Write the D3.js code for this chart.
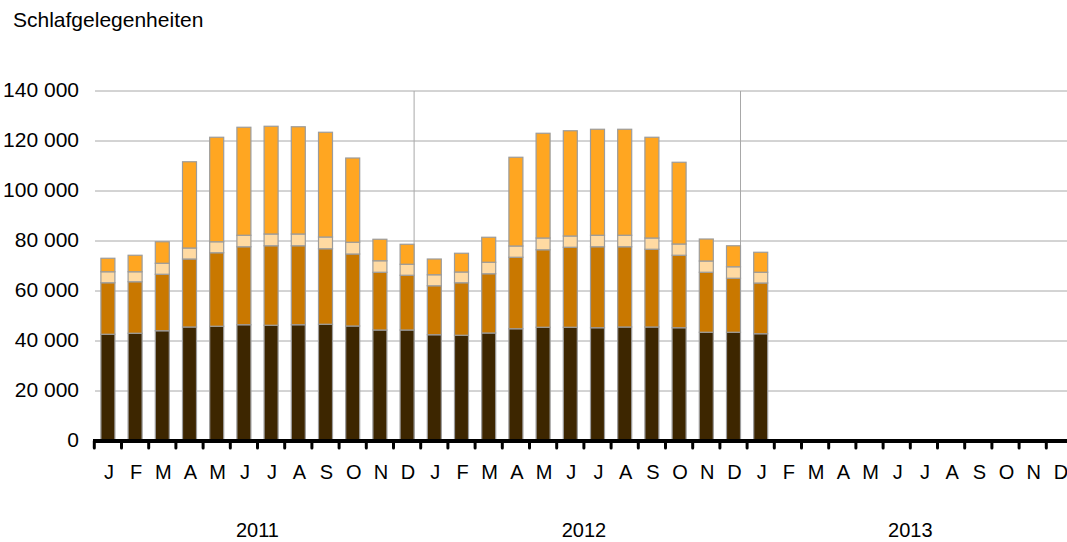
<!DOCTYPE html>
<html>
<head>
<meta charset="utf-8">
<script src="https://cdn.jsdelivr.net/npm/d3@7"></script>
<style>
    body { margin: 0; background: #fff; }
    text { font-family: "Liberation Sans", Arial, sans-serif; fill: #000; }
</style>
</head>
<body>
<svg id="chart" width="1067" height="542"></svg>
<script>
// months along the axis, three years of twelve
var monthLabels = ['J', 'F', 'M', 'A', 'M', 'J', 'J', 'A', 'S', 'O', 'N', 'D'];
var years = ['2011', '2012', '2013'];
var yTicks = [0, 20000, 40000, 60000, 80000, 100000, 120000, 140000];

// stacked series, bottom to top (only Jan 2011 .. Jan 2013 have data)
var seriesA = [42700, 43100, 44100, 45600, 45900, 46500, 46300, 46500, 46700, 46000, 44400, 44400,
               42500, 42300, 43200, 44900, 45500, 45500, 45300, 45600, 45600, 45300, 43500, 43500,
               42900];
var seriesB = [20600, 20600, 22600, 27200, 29400, 31200, 31800, 31600, 30200, 28800, 23100, 21900,
               19600, 21000, 23700, 28600, 31000, 32000, 32400, 32100, 31100, 29000, 24000, 21600,
               20300];
var seriesC = [4400, 4000, 4400, 4400, 4400, 4600, 4700, 4700, 4700, 4700, 4600, 4400,
               4400, 4300, 4600, 4500, 4700, 4500, 4600, 4600, 4500, 4500, 4500, 4600,
               4300];
var seriesD = [5400, 6600, 8600, 34500, 41800, 43200, 43100, 42900, 41900, 33700, 8600, 8000,
               6300, 7500, 10000, 35500, 41900, 42100, 42400, 42400, 40300, 32700, 8800, 8400,
               8000];
var colors = ['#3d2600', '#c97800', '#ffdaa2', '#ffa621'];

var svg = d3.select('#chart');
var dim = { left: 94.3, top: 91, bottom: 441, step: 27.2 };

// one slot per month
var slots = [];
years.forEach(function (y) {
    monthLabels.forEach(function (m, i) { slots.push(y + '-' + i); });
});

var x = d3.scaleBand()
    .domain(slots)
    .range([dim.left, dim.left + dim.step * slots.length])
    .paddingInner(0.485)
    .paddingOuter(0.2425);
var y = d3.scaleLinear().domain([0, 140000]).range([dim.bottom, dim.top]);

//title
svg.append('text')
    .attr('x', 13).attr('y', 27)
    .style('font-size', '21px')
    .text('Schlafgelegenheiten');

//grid lines and y labels
yTicks.forEach(function (t) {
    if (t > 0) {
        svg.append('line')
            .attr('x1', 95).attr('x2', 1067)
            .attr('y1', y(t)).attr('y2', y(t))
            .style('stroke', '#a8a8a8').style('stroke-width', 1);
    }
    svg.append('text')
        .attr('x', 79).attr('y', y(t)).attr('dy', 6)
        .attr('text-anchor', 'end')
        .style('font-size', '21px')
        .text(d3.format(',')(t).replace(/,/g, ' '));
});

//year separators at right edge of december bars
[11, 23].forEach(function (i) {
    var sx = x(slots[i]) + x.bandwidth();
    svg.append('line')
        .attr('x1', sx).attr('x2', sx)
        .attr('y1', y(140000)).attr('y2', dim.bottom)
        .style('stroke', '#a8a8a8').style('stroke-width', 1);
});

//stacked bars
var rows = seriesA.map(function (d, i) {
    return { slot: slots[i], a: seriesA[i], b: seriesB[i], c: seriesC[i], d: seriesD[i] };
});
var stack = d3.stack().keys(['a', 'b', 'c', 'd'])(rows);
stack.forEach(function (layer, k) {
    svg.append('g').selectAll('rect')
        .data(layer)
        .enter().append('rect')
        .attr('x', function (d) { return x(d.data.slot); })
        .attr('width', x.bandwidth())
        .attr('y', function (d) { return y(d[1]); })
        .attr('height', function (d) { return y(d[0]) - y(d[1]); })
        .style('fill', colors[k])
        .style('stroke', '#9c9c9c')
        .style('stroke-width', 1.2);
});

//x axis line and tick marks
svg.append('line')
    .attr('x1', 93).attr('x2', 1067)
    .attr('y1', dim.bottom).attr('y2', dim.bottom)
    .style('stroke', '#000').style('stroke-width', 4);
slots.forEach(function (s, i) {
    var tx = dim.left + dim.step * i;
    svg.append('line')
        .attr('x1', tx).attr('x2', tx)
        .attr('y1', dim.bottom).attr('y2', dim.bottom + 7)
        .style('stroke', '#000').style('stroke-width', 3)
        .style('stroke-linecap', 'round');
    svg.append('text')
        .attr('x', x(s) + x.bandwidth() / 2 + 1).attr('y', 479)
        .attr('text-anchor', 'middle')
        .style('font-size', '20px')
        .text(monthLabels[i % 12]);
});

//year labels
years.forEach(function (yr, i) {
    var cx = dim.left + dim.step * (i * 12 + 6);
    svg.append('text')
        .attr('x', cx).attr('y', 537)
        .attr('text-anchor', 'middle')
        .style('font-size', '20px')
        .text(yr);
});
</script>
</body>
</html>
